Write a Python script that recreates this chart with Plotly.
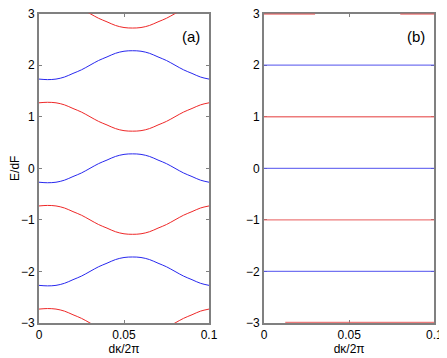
import plotly.graph_objects as go

# wave number axis, d*kappa/2pi
k = [0.000, 0.005, 0.010, 0.015, 0.020, 0.025, 0.030, 0.035, 0.040, 0.045, 0.050,
     0.055, 0.060, 0.065, 0.070, 0.075, 0.080, 0.085, 0.090, 0.095, 0.100]

# panel (a): dispersive bands, E/dF
red_3 = [3.27, 3.28, 3.27, 3.23, 3.16, 3.09, 3.00, 2.91, 2.84, 2.77, 2.73,
         2.72, 2.73, 2.77, 2.84, 2.91, 3.00, 3.09, 3.16, 3.23, 3.27]
blue_2 = [1.73, 1.72, 1.73, 1.77, 1.84, 1.91, 2.00, 2.09, 2.16, 2.23, 2.27,
          2.28, 2.27, 2.23, 2.16, 2.09, 2.00, 1.91, 1.84, 1.77, 1.73]
red_1 = [1.27, 1.28, 1.27, 1.23, 1.16, 1.09, 1.00, 0.91, 0.84, 0.77, 0.73,
         0.72, 0.73, 0.77, 0.84, 0.91, 1.00, 1.09, 1.16, 1.23, 1.27]
blue_0 = [-0.27, -0.28, -0.27, -0.23, -0.16, -0.09, 0.00, 0.09, 0.16, 0.23, 0.27,
          0.28, 0.27, 0.23, 0.16, 0.09, 0.00, -0.09, -0.16, -0.23, -0.27]
red_m1 = [-0.73, -0.72, -0.73, -0.77, -0.84, -0.91, -1.00, -1.09, -1.16, -1.23, -1.27,
          -1.28, -1.27, -1.23, -1.16, -1.09, -1.00, -0.91, -0.84, -0.77, -0.73]
blue_m2 = [-2.27, -2.28, -2.27, -2.23, -2.16, -2.09, -2.00, -1.91, -1.84, -1.77, -1.73,
           -1.72, -1.73, -1.77, -1.84, -1.91, -2.00, -2.09, -2.16, -2.23, -2.27]
red_m3 = [-2.73, -2.72, -2.73, -2.77, -2.84, -2.91, -3.00, -3.09, -3.16, -3.23, -3.27,
          -3.28, -3.27, -3.23, -3.16, -3.09, -3.00, -2.91, -2.84, -2.77, -2.73]

# panel (b): flat bands
k_flat = [0.0, 0.1]
red_levels = [1, -1]
blue_levels = [2, 0, -2]
k_top = [0.0, 0.03, None, 0.08, 0.1]
e_top = [3, 3, None, 3, 3]
k_bot = [0.0125, 0.1]
e_bot = [-3, -3]

x_ticks = [0, 0.05, 0.1]
x_labels = ['0', '0.05', '0.1']

RED = 'rgb(238,40,40)'
BLUE = 'rgb(40,40,238)'
RED_B = 'rgba(232,90,90,0.8)'
BLUE_B = 'rgba(80,80,238,0.8)'
GRAY = 'rgb(128,128,128)'
FONT = 'Liberation Sans, Arial, sans-serif'

fig = go.Figure()

for band, col in [(red_3, RED), (blue_2, BLUE), (red_1, RED), (blue_0, BLUE),
                  (red_m1, RED), (blue_m2, BLUE), (red_m3, RED)]:
    fig.add_trace(go.Scatter(x=k, y=band, mode='lines', line=dict(color=col, width=1, shape='spline'),
                             xaxis='x', yaxis='y', showlegend=False))

for lev in blue_levels:
    fig.add_trace(go.Scatter(x=k_flat, y=[lev, lev], mode='lines', line=dict(color=BLUE_B, width=1.3),
                             xaxis='x2', yaxis='y2', showlegend=False))
for lev in red_levels:
    fig.add_trace(go.Scatter(x=k_flat, y=[lev, lev], mode='lines', line=dict(color=RED_B, width=1.3),
                             xaxis='x2', yaxis='y2', showlegend=False))
fig.add_trace(go.Scatter(x=k_top, y=e_top, mode='lines', line=dict(color=RED_B, width=2.5),
                         xaxis='x2', yaxis='y2', showlegend=False))
fig.add_trace(go.Scatter(x=k_bot, y=e_bot, mode='lines', line=dict(color=RED_B, width=2.5),
                         xaxis='x2', yaxis='y2', showlegend=False))

ax = dict(showline=True, mirror='ticks', linecolor=GRAY, linewidth=2, ticks='inside', ticklen=3,
          tickcolor=GRAY, showgrid=False, zeroline=False, layer='below traces', automargin=False,
          ticklabeloverflow='allow', tickfont=dict(family=FONT, size=12, color='black'))

# page body adds 8px offset, so the figure is 439x350 drawn from (8, 8)
fig.update_layout(
    width=439, height=350,
    margin=dict(l=0, r=0, t=0, b=0),
    plot_bgcolor='white', paper_bgcolor='white',
    font=dict(family=FONT, size=12, color='black'),
    xaxis=dict(ax, domain=[0.0706, 0.4579], range=[0, 0.1], tickvals=x_ticks, ticktext=x_labels,
               title=dict(text='dκ/2π', standoff=0, font=dict(size=12))),
    yaxis=dict(ax, domain=[0.1, 0.984], range=[-3, 3], dtick=1,
               title=dict(text='E/dF', standoff=4, font=dict(size=12))),
    xaxis2=dict(ax, domain=[0.5831, 0.9711], range=[0, 0.1], tickvals=x_ticks, ticktext=x_labels,
                anchor='y2', title=dict(text='dκ/2π', standoff=0, font=dict(size=12))),
    yaxis2=dict(ax, domain=[0.1, 0.984], range=[-3, 3], dtick=1, anchor='x2'),
    annotations=[
        dict(text='(a)', x=0.0894, y=2.56, xref='x', yref='y', showarrow=False, font=dict(size=15)),
        dict(text='(b)', x=0.0894, y=2.56, xref='x2', yref='y2', showarrow=False, font=dict(size=15)),
    ],
)

fig.write_html('out.html')
